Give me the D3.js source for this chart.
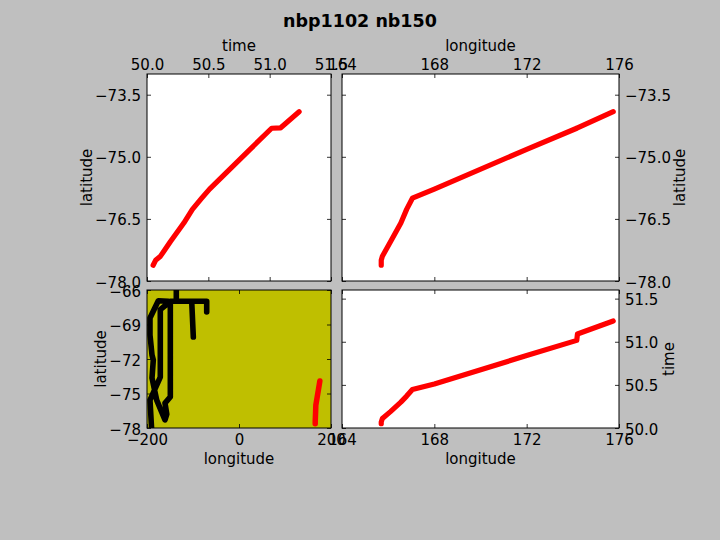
<!DOCTYPE html>
<html>
<head>
<meta charset="utf-8">
<script src="https://cdn.jsdelivr.net/npm/d3@7"></script>
<style>
  html, body { margin: 0; padding: 0; background: #bfbfbf; }
  svg { display: block; }
  text { font-family: "DejaVu Sans", sans-serif; fill: #000; }
</style>
</head>
<body>
<svg id="chart" width="720" height="540"></svg>
<script>
// red track
const trackTime = [50.05, 50.07, 50.11, 50.19, 50.30, 50.37, 50.446, 50.51, 50.84, 51.016, 51.09, 51.24];
const trackLon = [165.70, 165.70, 165.75, 166.10, 166.55, 166.80, 167.05, 168.0, 172.0, 174.17, 174.20, 175.75];
const trackLat = [-77.62, -77.50, -77.40, -77.05, -76.60, -76.27, -76.0, -75.78, -74.82, -74.31, -74.30, -73.91];

// black cruise track in the lower left panel
const otherLon = [-70.2, -70.2, -102.8, -99.3, -102.8, -136.3, -136.3, -136.3, -149.3, -149.3, -160.9, -157, -160.9, -178.9, -189.1, -186.3, -189.1, -193.5, -193.5, -175.4, -153.7, -153.7, -171.1, -171.1, -193.5, -189.8];
const otherLat = [-67.91, -66.98, -66.98, -70.09, -66.98, -66.98, -65.65, -66.98, -66.98, -75.3, -75.83, -76.8, -77.3, -75.57, -73.65, -72.09, -71.65, -69.91, -68.43, -66.93, -66.98, -67.13, -67.71, -73.57, -75.57, -78.2];

const latTicks = [-73.5, -75, -76.5, -78];
const latTicksWide = [-66, -69, -72, -75, -78];
const timeTicks = [50, 50.5, 51, 51.5];
const lonTicks = [164, 168, 172, 176];
const lonTicksWide = [-200, 0, 200];

const svg = d3.select('#chart');
const fontSize = 15;
const fmtMinus = d => String(d).replace('-', '\u2212');
const fmt1 = d => fmtMinus(d3.format('.1f')(d));
const fmt0 = d => fmtMinus(d3.format('d')(d));

svg.append('text')
  .attr('x', 360)
  .attr('y', 27)
  .attr('text-anchor', 'middle')
  .style('font-size', '17.5px')
  .style('font-weight', 'bold')
  .text('nbp1102 nb150');

const tickAxis = (gen, scale, ticks, fmt, pad) => gen(scale)
  .tickValues(ticks)
  .tickFormat(fmt)
  .tickSize(-4)
  .tickPadding(pad);

let clipId = 0;

const drawPanel = (p) => {
  const w = p.x1 - p.x0;
  const h = p.y1 - p.y0;
  const g = svg.append('g').attr('transform', `translate(${p.x0},${p.y0})`);
  const x = d3.scaleLinear().domain(p.xDomain).range([0, w]);
  const y = d3.scaleLinear().domain(p.yDomain).range([h, 0]);
  const id = `clip${clipId++}`;

  g.append('clipPath').attr('id', id).append('rect').attr('width', w).attr('height', h);
  g.append('rect').attr('width', w).attr('height', h).attr('fill', p.bg);

  const line = d3.line().x(d => x(d[0])).y(d => y(d[1]));
  p.series.forEach(s => {
    g.append('path')
      .attr('clip-path', `url(#${id})`)
      .attr('d', line(d3.zip(s.xs, s.ys)))
      .attr('fill', 'none')
      .attr('stroke', s.color)
      .attr('stroke-width', s.width)
      .attr('stroke-linecap', 'round')
      .attr('stroke-linejoin', 'round');
  });

  // ticks point inward on all four sides, labels only on the chosen sides
  const xTop = g.append('g').call(tickAxis(d3.axisTop, x, p.xTicks, p.xOnTop ? p.xFmt : '', 4));
  const xBottom = g.append('g').attr('transform', `translate(0,${h})`)
    .call(tickAxis(d3.axisBottom, x, p.xTicks, p.xOnTop ? '' : p.xFmt, 6));
  const yLeft = g.append('g').call(tickAxis(d3.axisLeft, y, p.yTicks, p.yOnRight ? '' : p.yFmt, 6));
  const yRight = g.append('g').attr('transform', `translate(${w},0)`)
    .call(tickAxis(d3.axisRight, y, p.yTicks, p.yOnRight ? p.yFmt : '', 6));

  [xTop, xBottom, yLeft, yRight].forEach(a => {
    a.select('.domain').remove();
    a.selectAll('line').attr('stroke', '#000').attr('stroke-width', 0.8);
    a.selectAll('text').style('font-size', fontSize + 'px').style('font-family', '"DejaVu Sans", sans-serif');
  });
  [yLeft, yRight].forEach(a => a.selectAll('text').attr('dy', '0.4em'));

  g.append('rect')
    .attr('width', w)
    .attr('height', h)
    .attr('fill', 'none')
    .attr('stroke', '#000')
    .attr('stroke-width', 1);

  g.append('text')
    .attr('x', w / 2)
    .attr('y', p.xOnTop ? -23 : h + 36)
    .attr('text-anchor', 'middle')
    .style('font-size', fontSize + 'px')
    .text(p.xLabel);

  g.append('text')
    .attr('transform', `translate(${p.yLabelX},${h / 2}) rotate(-90)`)
    .attr('text-anchor', 'middle')
    .style('font-size', fontSize + 'px')
    .text(p.yLabel);
};

const red = (xs, ys) => ({ xs, ys, color: '#ff0000', width: 5.2 });

drawPanel({
  x0: 147, x1: 331, y0: 74, y1: 281, bg: '#fff',
  xDomain: [50, 51.5], yDomain: [-78, -73],
  xTicks: timeTicks, yTicks: latTicks, xFmt: fmt1, yFmt: fmt1,
  xOnTop: true, yOnRight: false, xLabel: 'time', yLabel: 'latitude', yLabelX: -55,
  series: [red(trackTime, trackLat)]
});

drawPanel({
  x0: 342, x1: 619, y0: 74, y1: 281, bg: '#fff',
  xDomain: [164, 176], yDomain: [-78, -73],
  xTicks: lonTicks, yTicks: latTicks, xFmt: fmt0, yFmt: fmt1,
  xOnTop: true, yOnRight: true, xLabel: 'longitude', yLabel: 'latitude', yLabelX: 343,
  series: [red(trackLon, trackLat)]
});

drawPanel({
  x0: 147, x1: 331, y0: 290, y1: 428, bg: '#bfbf00',
  xDomain: [-200, 200], yDomain: [-78, -66],
  xTicks: lonTicksWide, yTicks: latTicksWide, xFmt: fmt0, yFmt: fmt0,
  xOnTop: false, yOnRight: false, xLabel: 'longitude', yLabel: 'latitude', yLabelX: -41,
  series: [
    { xs: otherLon, ys: otherLat, color: '#000', width: 5.6 },
    { xs: trackLon, ys: trackLat, color: '#ff0000', width: 5.5 }
  ]
});

drawPanel({
  x0: 342, x1: 619, y0: 290, y1: 428, bg: '#fff',
  xDomain: [164, 176], yDomain: [50, 51.6],
  xTicks: lonTicks, yTicks: timeTicks, xFmt: fmt0, yFmt: fmt1,
  xOnTop: false, yOnRight: true, xLabel: 'longitude', yLabel: 'time', yLabelX: 332,
  series: [red(trackLon, trackTime)]
});
</script>
</body>
</html>
